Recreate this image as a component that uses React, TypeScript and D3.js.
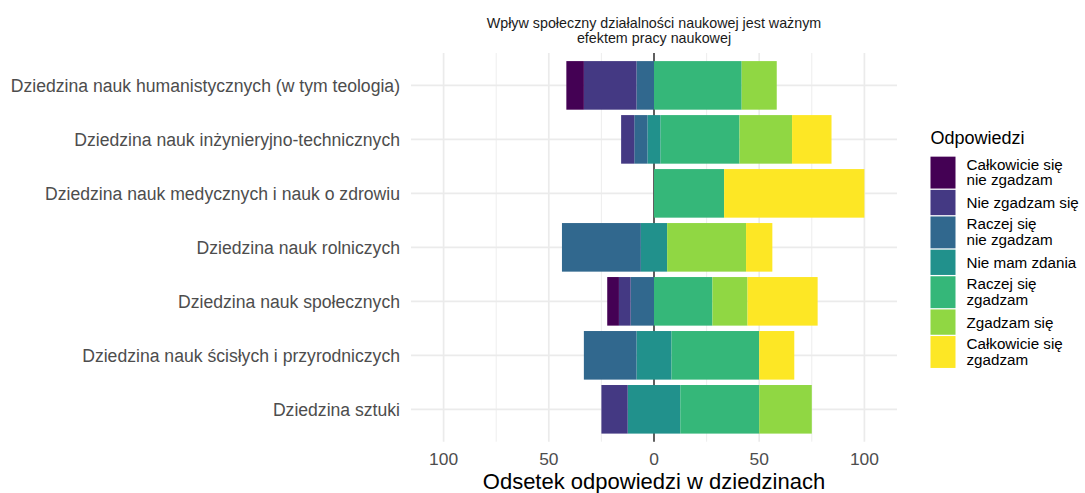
import React from "react";
import * as d3 from "d3";

const categories = [
  "Dziedzina nauk humanistycznych (w tym teologia)",
  "Dziedzina nauk inżynieryjno-technicznych",
  "Dziedzina nauk medycznych i nauk o zdrowiu",
  "Dziedzina nauk rolniczych",
  "Dziedzina nauk społecznych",
  "Dziedzina nauk ścisłych i przyrodniczych",
  "Dziedzina sztuki",
];

const responseLabels = [
  ["Całkowicie się", "nie zgadzam"],
  ["Nie zgadzam się"],
  ["Raczej się", "nie zgadzam"],
  ["Nie mam zdania"],
  ["Raczej się", "zgadzam"],
  ["Zgadzam się"],
  ["Całkowicie się", "zgadzam"],
];

const responseColors = ["#440154", "#443983", "#31688e", "#21918c", "#35b779", "#90d743", "#fde725"];

// percentages per category (same order as categories)
const calkowicieNie = [8.33, 0, 0, 0, 5.56, 0, 0];
const nieZgadzam = [25, 6.25, 0, 0, 5.56, 0, 12.5];
const raczejNie = [8.33, 6.25, 0, 37.5, 11.11, 25, 0];
const nieMamZdania = [0, 6.25, 0, 12.5, 0, 16.67, 25];
const raczejTak = [41.67, 37.5, 33.33, 0, 27.78, 41.67, 37.5];
const zgadzam = [16.67, 25, 0, 37.5, 16.67, 0, 25];
const calkowicieTak = [0, 18.75, 66.67, 12.5, 33.33, 16.67, 0];

const series = [calkowicieNie, nieZgadzam, raczejNie, nieMamZdania, raczejTak, zgadzam, calkowicieTak];

const majorTicks = [-100, -50, 0, 50, 100];
const minorTicks = [-75, -25, 25, 75];

const W = 1085;
const H = 493;
const panel = { left: 411, right: 897, top: 53, bottom: 441.7 };
const FONT = "'Liberation Sans', Arial, Helvetica, sans-serif";

export default function App() {
  const x = d3.scaleLinear().domain([-115.5, 115.5]).range([panel.left, panel.right]);
  const y = d3
    .scaleBand<string>()
    .domain(categories)
    .range([panel.top, panel.bottom])
    .paddingInner(0.1)
    .paddingOuter(0.15);
  const bw = y.bandwidth();

  type Seg = { cat: string; k: number; x0: number; x1: number };
  const segs: Seg[] = [];
  categories.forEach((cat, i) => {
    const neu = series[3][i];
    let neg = -neu / 2;
    if (neu > 0) segs.push({ cat, k: 3, x0: -neu / 2, x1: neu / 2 });
    for (const k of [2, 1, 0]) {
      const v = series[k][i];
      if (v > 0) {
        segs.push({ cat, k, x0: neg - v, x1: neg });
        neg -= v;
      }
    }
    let pos = neu / 2;
    for (const k of [4, 5, 6]) {
      const v = series[k][i];
      if (v > 0) {
        segs.push({ cat, k, x0: pos, x1: pos + v });
        pos += v;
      }
    }
  });

  // legend layout
  const legendX = 930.5;
  const keyW = 25;
  let ly = 156;
  const legendItems = responseLabels.map((lines, k) => {
    const h = lines.length > 1 ? 33.2 : 26.6;
    const item = { k, lines, top: ly, h };
    ly += h;
    return item;
  });

  return (
    <div style={{ position: "absolute", left: 0, top: 0 }}>
      <svg width={W} height={H} style={{ display: "block", background: "#fff" }} fontFamily={FONT}>
        {/* minor grid */}
        {minorTicks.map((t) => (
          <line key={"mi" + t} x1={x(t)} x2={x(t)} y1={panel.top} y2={panel.bottom} stroke="#ebebeb" strokeWidth={0.9} />
        ))}
        {/* major grid */}
        {majorTicks.map((t) => (
          <line key={"ma" + t} x1={x(t)} x2={x(t)} y1={panel.top} y2={panel.bottom} stroke="#ebebeb" strokeWidth={1.7} />
        ))}
        {categories.map((c) => (
          <line
            key={"hg" + c}
            x1={panel.left}
            x2={panel.right}
            y1={(y(c) as number) + bw / 2}
            y2={(y(c) as number) + bw / 2}
            stroke="#ebebeb"
            strokeWidth={1.7}
          />
        ))}
        {/* zero line */}
        <line x1={x(0)} x2={x(0)} y1={panel.top} y2={panel.bottom} stroke="#000" strokeWidth={1.2} />
        {/* bars */}
        {segs.map((s, i) => (
          <rect
            key={i}
            x={x(s.x0)}
            width={x(s.x1) - x(s.x0)}
            y={y(s.cat) as number}
            height={bw}
            fill={responseColors[s.k]}
          />
        ))}
        {/* y labels */}
        {categories.map((c) => (
          <text
            key={"yl" + c}
            x={400}
            y={(y(c) as number) + bw / 2 + 6.5}
            textAnchor="end"
            fontSize={17.6}
            fill="#4d4d4d"
          >
            {c}
          </text>
        ))}
        {/* x tick labels */}
        {majorTicks.map((t) => (
          <text key={"xt" + t} x={x(t)} y={465} textAnchor="middle" fontSize={17.4} fill="#4d4d4d">
            {Math.abs(t)}
          </text>
        ))}
        {/* x title */}
        <text x={x(0)} y={488.5} textAnchor="middle" fontSize={22} fill="#000">
          Odsetek odpowiedzi w dziedzinach
        </text>
        {/* title */}
        <text x={x(0)} y={27.5} textAnchor="middle" fontSize={14.3} fill="#1a1a1a">
          Wpływ społeczny działalności naukowej jest ważnym
        </text>
        <text x={x(0)} y={43.3} textAnchor="middle" fontSize={14.3} fill="#1a1a1a">
          efektem pracy naukowej
        </text>
        {/* legend */}
        <text x={legendX} y={143.5} fontSize={18} fill="#000">
          Odpowiedzi
        </text>
        {legendItems.map((it) => {
          const cy = it.top + it.h / 2;
          return (
            <g key={"lg" + it.k}>
              <rect
                x={legendX}
                y={it.top + 0.65}
                width={keyW}
                height={it.h - 1.3}
                fill={responseColors[it.k]}
              />
              {it.lines.length > 1 ? (
                <>
                  <text x={966.5} y={cy - 3} fontSize={15.2} fill="#000">
                    {it.lines[0]}
                  </text>
                  <text x={966.5} y={cy + 12.5} fontSize={15.2} fill="#000">
                    {it.lines[1]}
                  </text>
                </>
              ) : (
                <text x={966.5} y={cy + 5.4} fontSize={15.2} fill="#000">
                  {it.lines[0]}
                </text>
              )}
            </g>
          );
        })}
      </svg>
    </div>
  );
}
